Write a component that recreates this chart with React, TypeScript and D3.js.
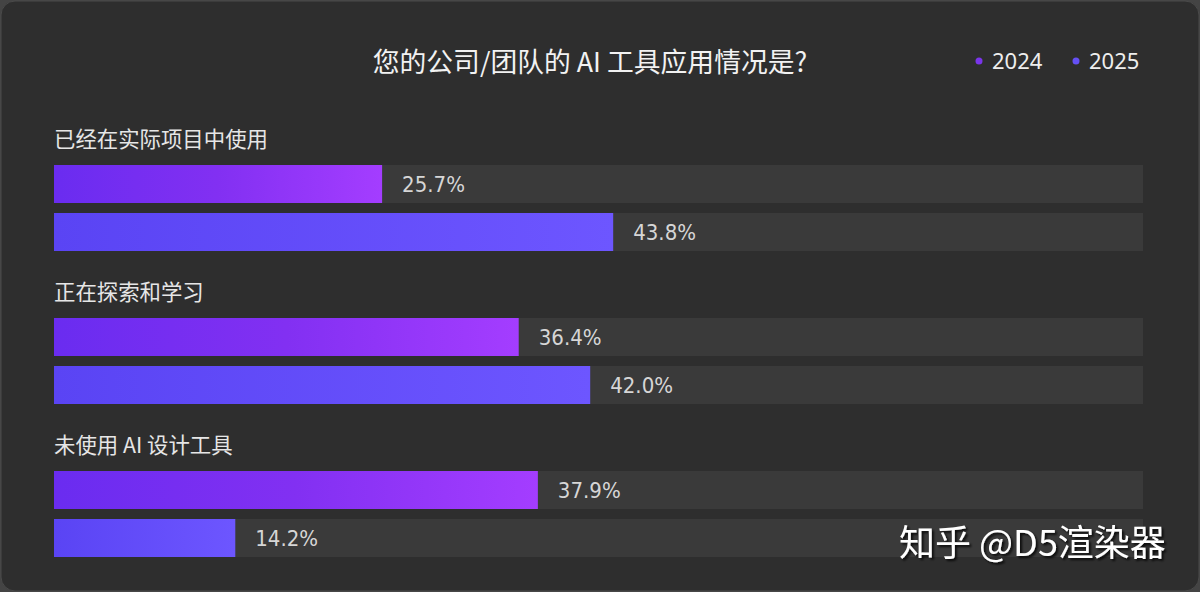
import React from 'react';
import * as d3 from 'd3';

const categories = ['已经在实际项目中使用', '正在探索和学习', '未使用 AI 设计工具'];
const years = ['2024', '2025'];
const values2024 = [25.7, 36.4, 37.9];
const values2025 = [43.8, 42.0, 14.2];
const title = '您的公司/团队的 AI 工具应用情况是?';
const watermark = '知乎 @D5渲染器';

const W = 1200;
const H = 592;
const CJK = '"Noto Sans CJK SC", "Noto Sans", sans-serif';
const NUM = '"DejaVu Sans Condensed", "Noto Sans", sans-serif';

export default function App() {
  const x = d3.scaleLinear().domain([0, 85.3]).range([54, 1143]);
  const y = d3.scaleBand<string>().domain(categories).range([118, 577]).paddingInner(0);
  const barH = 38;
  const rowOff = [47, 95];
  const series = [values2024, values2025];
  const grads = ['g2024', 'g2025'];
  const legendX = [975, 1072];

  return (
    <svg width={W} height={H} style={{ position: 'absolute', left: 0, top: 0 }}>
      <defs>
        <linearGradient id="g2024" x1="0" x2="1" y1="0" y2="0">
          <stop offset="0" stopColor="#6a2cf0" />
          <stop offset="0.5" stopColor="#8230f2" />
          <stop offset="1" stopColor="#a43dff" />
        </linearGradient>
        <linearGradient id="g2025" x1="0" x2="1" y1="0" y2="0">
          <stop offset="0" stopColor="#5a44f4" />
          <stop offset="1" stopColor="#6d56ff" />
        </linearGradient>
        <filter id="ws" x="-10%" y="-30%" width="130%" height="170%">
          <feDropShadow dx="2" dy="2" stdDeviation="1.2" floodColor="#000" floodOpacity="0.8" />
        </filter>
      </defs>
      <rect x={0} y={0} width={W} height={H} fill="#444444" />
      <rect x={1} y={1} width={W - 2} height={H - 2} rx={14} fill="#2e2e2e" stroke="#4a4a4a" strokeWidth={1} />

      <text x={590} y={72} textAnchor="middle" fill="#f2f2f2" fontFamily={CJK} fontSize={26.8}>
        {title}
      </text>

      {years.map((yr, i) => (
        <g key={yr}>
          <circle cx={legendX[i] + 4} cy={61} r={3.5} fill={i === 0 ? '#7a35ea' : '#6550f5'} />
          <text x={legendX[i] + 17} y={69} fill="#eeeeee" fontFamily={'"Noto Sans", sans-serif'} fontSize={22}>
            {yr}
          </text>
        </g>
      ))}

      {categories.map((c, ci) => {
        const g0 = y(c) as number;
        return (
          <g key={c}>
            <text x={54} y={g0 + 29} fill="#e6e6e6" fontFamily={CJK} fontSize={21.4}>
              {c}
            </text>
            {series.map((vals, si) => {
              const top = g0 + rowOff[si];
              const v = vals[ci];
              return (
                <g key={si}>
                  <rect x={x(0)} y={top} width={x(85.3) - x(0)} height={barH} fill="#3a3a3a" />
                  <rect x={x(0)} y={top} width={x(v) - x(0)} height={barH} fill={`url(#${grads[si]})`} />
                  <text
                    x={x(v) + 20}
                    y={top + barH / 2 + 7.5}
                    fill="#d6d6d6"
                    fontFamily={NUM}
                    fontSize={22}
                  >
                    {d3.format('.1f')(v) + '%'}
                  </text>
                </g>
              );
            })}
          </g>
        );
      })}

      <text x={899} y={556} fill="#ffffff" fontFamily={CJK} fontSize={36} filter="url(#ws)">
        {watermark}
      </text>
    </svg>
  );
}
